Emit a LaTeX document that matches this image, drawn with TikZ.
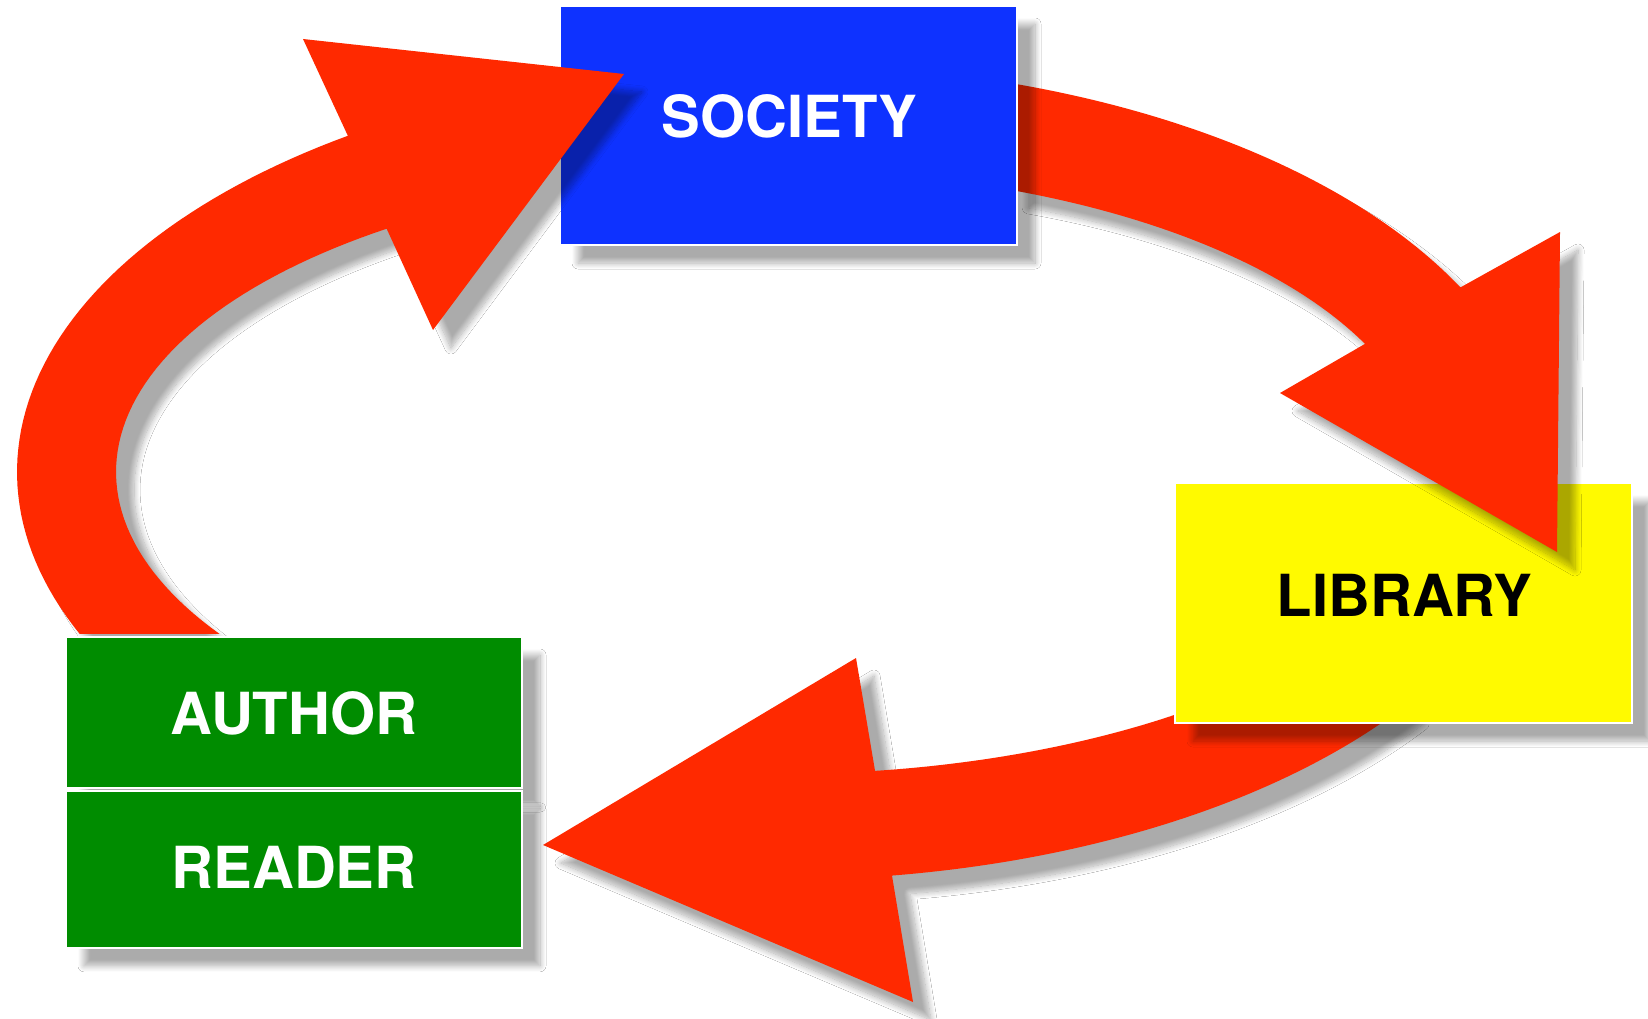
\documentclass[tikz,border=0pt]{standalone}
\usepackage{fontspec}
\setmainfont{TeX Gyre Heros}
\usetikzlibrary{shadows.blur}
\definecolor{arrowred}{RGB}{255,41,0}
\definecolor{socblue}{RGB}{14,50,255}
\definecolor{libyellow}{RGB}{255,250,0}
\definecolor{argreen}{RGB}{0,140,0}
\def\ecx{780}\def\ecy{472}
\def\oa{763}\def\ob{408}
\def\ia{664}\def\ib{302}
\def\iaB{646}\def\ibB{302}
\begin{document}
\begin{tikzpicture}[x=1pt,y=-1pt,
  shad/.style={blur shadow={shadow xshift=18pt,shadow yshift=-18pt,shadow blur radius=6pt,shadow blur steps=12,shadow opacity=33}},
  box/.style={shad,draw=white,line width=1.5pt,inner sep=0pt,rectangle},
  lbl/.style={font=\bfseries\fontsize{58}{60}\selectfont,inner sep=0pt},
  arrowfill/.style={fill=arrowred,shad}]
\fill[white] (0,0) rectangle (1648,1019);
\useasboundingbox (0,0) rectangle (1648,1019);
% arrowhead corners
\coordinate (h1a) at (303,39);
\coordinate (h1t) at (624,74);
\coordinate (h1b) at (433,330);
\coordinate (h2a) at (1560,232);
\coordinate (h2t) at (1557,552);
\coordinate (h2b) at (1280,393);
\coordinate (h3a) at (913,1002);
\coordinate (h3t) at (543,845);
\coordinate (h3b) at (856,658);
% arrow 3: library -> reader
\fill[arrowfill] plot[domain=35:81.56,samples=50] ({\ecx+\oa*cos(\x)},{\ecy+\ob*sin(\x)})
  -- (h3a) -- (h3t) -- (h3b)
  -- plot[domain=81.77:35,samples=50] ({\ecx+\ia*cos(\x)},{\ecy+\ib*sin(\x)}) -- cycle;
% library box
\node[box,fill=libyellow,minimum width=457pt,minimum height=240pt] (library) at (1403.5,603) {};
\node[lbl,text=black] (libraryT) at (1404.6,595) {LIBRARY};
% arrow 2: society -> library
\fill[arrowfill] plot[domain=-72.46:-26.9,samples=50] ({\ecx+\oa*cos(\x)},{\ecy+\ob*sin(\x)})
  -- (h2a) -- (h2t) -- (h2b)
  -- plot[domain=-25.1:-69.14,samples=50] ({\ecx+\iaB*cos(\x)},{\ecy+\ibB*sin(\x)}) -- cycle;
% society box
\node[box,fill=socblue,minimum width=457pt,minimum height=239pt] (society) at (788.5,125.5) {};
\node[lbl,text=white] (societyT) at (789.6,116) {SOCIETY};
% arrow 1: author -> society
\fill[arrowfill] plot[domain=156.61:235.5,samples=60] ({\ecx+\oa*cos(\x)},{\ecy+\ob*sin(\x)})
  -- (h1a) -- (h1t) -- (h1b)
  -- plot[domain=233.67:147.56,samples=60] ({\ecx+\ia*cos(\x)},{\ecy+\ib*sin(\x)}) -- cycle;
% author / reader boxes
\node[box,fill=argreen,minimum width=456pt,minimum height=151pt] (author) at (294,712.5) {};
\node[box,fill=argreen,minimum width=456pt,minimum height=157pt] (reader) at (294,869.3) {};
\node[lbl,text=white] (authorT) at (294,713) {AUTHOR};
\node[lbl,text=white] (readerT) at (294,867) {READER};
\end{tikzpicture}
\end{document}
